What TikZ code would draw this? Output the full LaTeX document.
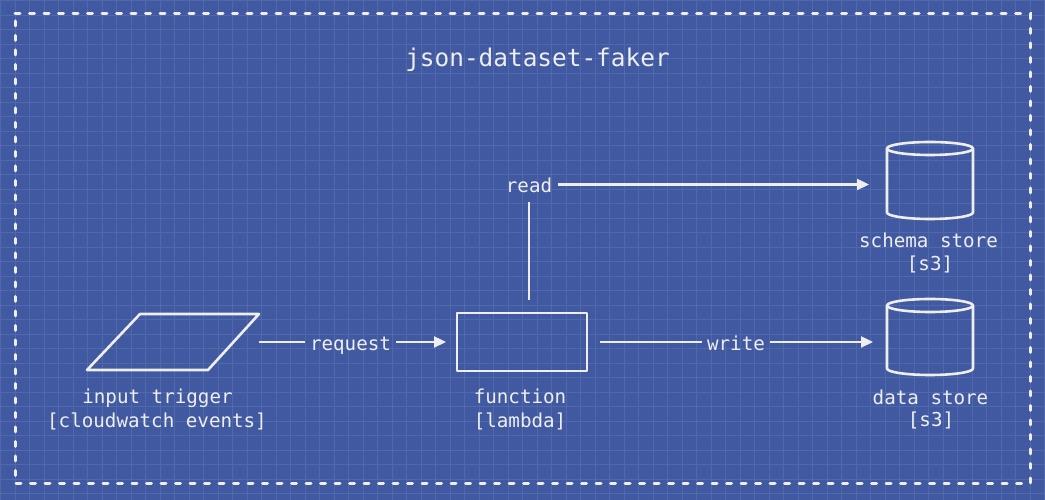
\documentclass[tikz,border=0pt]{standalone}
\usepackage{fontspec}
\setmonofont{DejaVu Sans Mono}
\usetikzlibrary{arrows.meta,shapes.geometric,calc}
\definecolor{bp}{RGB}{64,89,161}
\definecolor{bpgrid}{RGB}{80,104,172}
\definecolor{ink}{RGB}{238,238,238}
\begin{document}
\begin{tikzpicture}[x=1pt,y=1pt,
  shapeline/.style={draw=ink, line width=2.6pt, line join=round},
  conn/.style={draw=ink, line width=2.3pt},
  arrowconn/.style={conn, -{Triangle[length=12pt,width=11pt]}},
  lbl/.style={font=\ttfamily\fontsize{19.2}{24}\selectfont, text=ink, inner xsep=5.5pt, inner ysep=9pt, text height=17pt, text depth=0pt, outer sep=0pt},
  captext/.style={font=\ttfamily\fontsize{19.2}{24}\selectfont, text=ink, anchor=base, inner sep=0pt},
  ttl/.style={font=\ttfamily\fontsize{24.4}{29}\selectfont, text=ink, anchor=base, inner sep=0pt},
  gridline/.style={draw=bpgrid, line width=0.6pt},
  storebox/.style={minimum width=86pt, inner sep=0pt, outer sep=0pt},
]
\useasboundingbox (0,0) rectangle (1045,500);
\fill[bp] (0,0) rectangle (1045,500);
\foreach \i in {0,...,72} { \draw[gridline] ({0.5+\i*14.5},0) -- ++(0,500); }
\foreach \j in {0,...,34} { \draw[gridline] (0,{499.5-\j*14.5}) -- ++(1045,0); }
\draw[ink, line width=3pt, dash pattern=on 5pt off 9.5pt, line cap=round] (15,486) -- (1030,486) -- (1030,16) -- (15,16) -- cycle;

\node[ttl] (title) at (537.5,433.3) {json-dataset-faker};

% input trigger
\node[rectangle, minimum width=172pt, minimum height=56pt, inner sep=0pt, outer sep=0pt] (tr) at (173,158) {};
\draw[shapeline] ($(tr.north west)+(53,0)$) -- (tr.north east) -- ($(tr.south east)+(-51,0)$) -- (tr.south west) -- cycle;
\node[captext] (trc1) at (157.5,96) {input trigger};
\node[captext] (trc2) at (157,72) {[cloudwatch events]};

% function
\node[rectangle, minimum width=130pt, minimum height=58pt, inner sep=0pt, outer sep=0pt, shapeline] (fn) at (522,158) {};
\node[captext] (fnc1) at (520,96) {function};
\node[captext] (fnc2) at (520,72) {[lambda]};

% schema store
\node[storebox, minimum height=77pt] (ss) at (930,319.5) {};
\draw[shapeline] ($(ss.north)+(0,-6.5)$) ellipse [x radius=43pt, y radius=6.5pt];
\draw[shapeline] ($(ss.north west)+(0,-6.5)$) -- ($(ss.south west)+(0,6.5)$)
   arc[start angle=180, end angle=360, x radius=43pt, y radius=6.5pt] -- ($(ss.north east)+(0,-6.5)$);
\node[captext] (ssc1) at (928.5,252) {schema store};
\node[captext] (ssc2) at (930,229) {[s3]};

% data store
\node[storebox, minimum height=76pt] (ds) at (930,163) {};
\draw[shapeline] ($(ds.north)+(0,-6.5)$) ellipse [x radius=43pt, y radius=6.5pt];
\draw[shapeline] ($(ds.north west)+(0,-6.5)$) -- ($(ds.south west)+(0,6.5)$)
   arc[start angle=180, end angle=360, x radius=43pt, y radius=6.5pt] -- ($(ds.north east)+(0,-6.5)$);
\node[captext] (dsc1) at (930.5,95) {data store};
\node[captext] (dsc2) at (931,73) {[s3]};

% connector labels
\node[lbl] (req) at (350.5,158) {request};
\node[lbl] (wr) at (736,158) {write};
\node[lbl] (rd) at (529,315.5) {read};

% connectors
\draw[conn] (tr.east) -- (req.west);
\draw[arrowconn, shorten >=11pt] (req.east) -- (fn.west);
\draw[conn, shorten <=13pt] (fn.east) -- (wr.west);
\draw[arrowconn, shorten >=14pt] (wr.east) -- (wr.east -| ds.west);
\draw[conn, shorten <=13pt] (fn.north -| rd.south) -- (rd.south);
\draw[arrowconn, shorten >=18pt] (rd.east) -- (rd.east -| ss.west);
\end{tikzpicture}
\end{document}
